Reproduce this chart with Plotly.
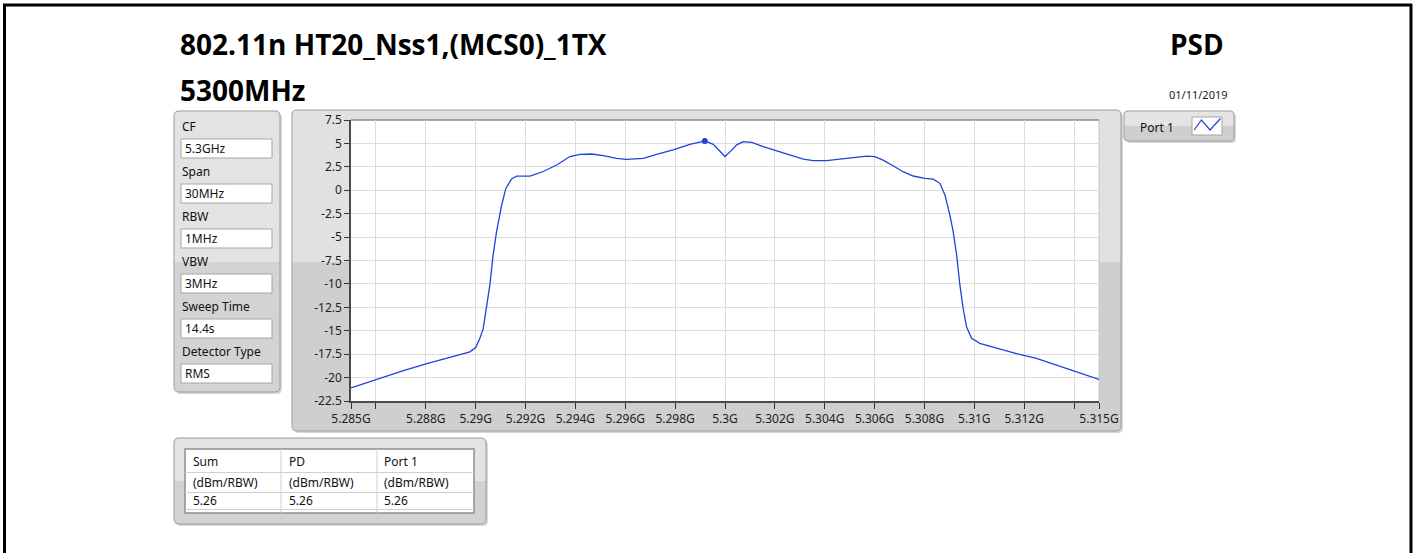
import plotly.graph_objects as go

# ---------------------------------------------------------------- data
freq_ghz = [
    5.28500, 5.28600, 5.28704, 5.28804, 5.28924, 5.28977, 5.29000, 5.29017,
    5.29030, 5.29044, 5.29057, 5.29070, 5.29084, 5.29104, 5.29121, 5.29144,
    5.29164, 5.29218, 5.29271, 5.29325, 5.29378, 5.29418, 5.29465, 5.29512,
    5.29565, 5.29605, 5.29672, 5.29726, 5.29792, 5.29859, 5.29919, 5.29953,
    5.29980, 5.30000, 5.30020, 5.30047, 5.30073, 5.30107, 5.30153, 5.30207,
    5.30260, 5.30314, 5.30354, 5.30407, 5.30461, 5.30514, 5.30568, 5.30601,
    5.30634, 5.30674, 5.30714, 5.30755, 5.30801, 5.30835, 5.30862, 5.30882,
    5.30902, 5.30915, 5.30929, 5.30942, 5.30955, 5.30969, 5.30989, 5.31022,
    5.31089, 5.31169, 5.31249, 5.31329, 5.31410, 5.31500,
]
level_dbm = [
    -21.10, -20.20, -19.30, -18.50, -17.60, -17.25, -16.80, -15.80,
    -14.80, -12.60, -10.10, -6.90, -4.40, -1.60, 0.20, 1.20,
    1.50, 1.50, 2.00, 2.70, 3.60, 3.83, 3.87, 3.70,
    3.40, 3.30, 3.40, 3.83, 4.30, 4.90, 5.26, 4.90,
    4.10, 3.60, 4.10, 4.85, 5.19, 5.12, 4.65, 4.20,
    3.76, 3.33, 3.16, 3.16, 3.33, 3.51, 3.65, 3.58,
    3.22, 2.62, 1.98, 1.52, 1.27, 1.19, 0.74, -0.50,
    -2.65, -4.40, -6.90, -10.10, -12.60, -14.60, -15.80, -16.35,
    -16.85, -17.45, -17.95, -18.70, -19.40, -20.20,
]
marker_freq_ghz = 5.29919
marker_level_dbm = 5.26

y_tick_vals = [7.5, 5, 2.5, 0, -2.5, -5, -7.5, -10, -12.5, -15, -17.5, -20, -22.5]
y_tick_text = ["7.5", "5", "2.5", "0", "-2.5", "-5", "-7.5", "-10", "-12.5",
               "-15", "-17.5", "-20", "-22.5"]
x_tick_vals = [5.285, 5.286, 5.288, 5.290, 5.292, 5.294, 5.296, 5.298, 5.300,
               5.302, 5.304, 5.306, 5.308, 5.310, 5.312, 5.314, 5.315]
x_tick_text = ["5.285G", "", "5.288G", "5.29G", "5.292G", "5.294G", "5.296G",
               "5.298G", "5.3G", "5.302G", "5.304G", "5.306G", "5.308G",
               "5.31G", "5.312G", "", "5.315G"]

setting_names = ["CF", "Span", "RBW", "VBW", "Sweep Time", "Detector Type"]
setting_values = ["5.3GHz", "30MHz", "1MHz", "3MHz", "14.4s", "RMS"]

table_columns = ["Sum", "PD", "Port 1"]
table_units = ["(dBm/RBW)", "(dBm/RBW)", "(dBm/RBW)"]
table_values = [5.26, 5.26, 5.26]

title_text = "802.11n HT20_Nss1,(MCS0)_1TX"
subtitle_text = "5300MHz"
mode_text = "PSD"
date_text = "01/11/2019"
trace_name = "Port 1"

# ---------------------------------------------------------------- geometry
W, H = 1415, 553
PL, PR, PT, PB = 351, 1099, 120, 401   # plot area in pixels
LINE_BLUE = "#1c44dc"
FONT = "Noto Sans"
TITLE_FONT = "Open Sans"


def fx(px):
    return (px - PL) / (PR - PL)


def fy(py):
    return (PB - py) / (PB - PT)


def P(x, y):
    return f"{fx(x):.5f},{fy(y):.5f}"


shapes = []
annotations = []


def add_rect(x0, y0, x1, y1, fill, line=None, lw=0, layer="below"):
    shapes.append(dict(type="rect", xref="paper", yref="paper",
                       x0=fx(x0), x1=fx(x1), y0=fy(y1), y1=fy(y0),
                       fillcolor=fill, layer=layer,
                       line=dict(color=line or fill, width=lw)))


def add_line(x0, y0, x1, y1, color, lw=1, layer="below"):
    shapes.append(dict(type="line", xref="paper", yref="paper",
                       x0=fx(x0), x1=fx(x1), y0=fy(y0), y1=fy(y1),
                       layer=layer, line=dict(color=color, width=lw)))


def rounded(x0, y0, x1, y1, r):
    return (f"M {P(x0 + r, y0)} L {P(x1 - r, y0)} Q {P(x1, y0)} {P(x1, y0 + r)} "
            f"L {P(x1, y1 - r)} Q {P(x1, y1)} {P(x1 - r, y1)} "
            f"L {P(x0 + r, y1)} Q {P(x0, y1)} {P(x0, y1 - r)} "
            f"L {P(x0, y0 + r)} Q {P(x0, y0)} {P(x0 + r, y0)} Z")


def top_rounded(x0, y0, x1, ys, r):
    return (f"M {P(x0, ys)} L {P(x0, y0 + r)} Q {P(x0, y0)} {P(x0 + r, y0)} "
            f"L {P(x1 - r, y0)} Q {P(x1, y0)} {P(x1, y0 + r)} L {P(x1, ys)} Z")


def add_path(path, fill, line="rgba(0,0,0,0)", lw=0):
    shapes.append(dict(type="path", xref="paper", yref="paper", path=path,
                       fillcolor=fill, layer="below",
                       line=dict(color=line, width=lw)))


def panel(x0, y0, x1, y1, split, top_fill, bottom_fill, r=5):
    add_path(rounded(x0 + 2, y0 + 2, x1 + 2, y1 + 2, r), "#d6d6d6")
    add_path(rounded(x0, y0, x1, y1, r), bottom_fill)
    add_path(top_rounded(x0, y0, x1, split, r), top_fill)
    add_path(rounded(x0, y0, x1, y1, r), "rgba(0,0,0,0)", "#9c9c9c", 1)


def text(x, y, s, size=12, color="#111111", anchor="left", bold=False, family=FONT):
    # annotation boxes carry a little padding; offset so the glyphs start at x
    x = x - 2 if anchor == "left" else x + 2
    annotations.append(dict(
        xref="paper", yref="paper", x=fx(x), y=fy(y), text=f"<b>{s}</b>" if bold else s,
        showarrow=False, xanchor=anchor, yanchor="middle",
        font=dict(family=family, size=size, color=color)))


# page frame
add_line(3, 5, 1412, 5, "#000000", 3)
add_line(4.5, 4, 4.5, H, "#000000", 3)
add_line(1411, 4, 1411, H, "#000000", 3)

# graph panel and plotting surface
panel(292, 110, 1121, 431, 262, "#e1e1e1", "#cfcfcf")
add_rect(PL, PT, PR, PB, "#ffffff")
add_line(PL, PT, PR, PT, "#8a8a8a", 1.5)
add_line(PR, PT, PR, PB, "#c6c6c6", 1)

# measurement settings cluster
panel(174, 111, 280, 392, 262, "#e3e3e3", "#d3d3d3")
for i, (name, val) in enumerate(zip(setting_names, setting_values)):
    ly = 126 + 45 * i
    by = 148.5 + 45 * i
    add_rect(181, by - 9.5, 272, by + 9.5, "#ffffff", "#a6a6a6", 1)
    text(182, ly, name)
    text(185, by, val)

# result table
panel(174, 438, 486, 524, 481, "#e3e3e3", "#d2d2d2")
add_rect(185, 449, 474, 513, "#ffffff", "#8f8f8f", 1.5)
for yy in (472.5, 492.5, 509.5):
    add_line(185, yy, 474, yy, "#cfcfcf", 1)
for xx in (281, 377):
    add_line(xx, 449, xx, 513, "#cfcfcf", 1)
col_x = [193, 289, 384]
for cx, head, unit, val in zip(col_x, table_columns, table_units, table_values):
    text(cx, 461, head)
    text(cx, 482, unit)
    text(cx, 500.5, f"{val:.2f}")

# plot legend
panel(1124, 111, 1234, 141, 126, "#e4e4e4", "#cfcfcf", r=4)
text(1140, 127, trace_name)
add_rect(1192, 117, 1222, 135, "#ffffff", "#a6a6a6", 1)
shapes.append(dict(type="path", xref="paper", yref="paper", layer="above",
                   path=f"M {P(1194, 130)} L {P(1201.5, 120)} L {P(1210, 130)} L {P(1220.5, 118.5)}",
                   line=dict(color=LINE_BLUE, width=1.2)))

# headings
text(180, 44, title_text, size=28, color="#000000", bold=True, family=TITLE_FONT)
text(180, 90, subtitle_text, size=28, color="#000000", bold=True, family=TITLE_FONT)
text(1224, 44, mode_text, size=28, color="#000000", anchor="right", bold=True, family=TITLE_FONT)
text(1228, 95, date_text, size=11, color="#1a1a1a", anchor="right")

# ---------------------------------------------------------------- figure
fig = go.Figure()
fig.add_trace(go.Scatter(x=freq_ghz, y=level_dbm, mode="lines", name=trace_name,
                         line=dict(color=LINE_BLUE, width=1.3), showlegend=False,
                         hoverinfo="skip"))
fig.add_trace(go.Scatter(x=[marker_freq_ghz], y=[marker_level_dbm], mode="markers",
                         marker=dict(color=LINE_BLUE, size=6), showlegend=False,
                         hoverinfo="skip"))

axis_common = dict(showgrid=True, gridcolor="#dcdcdc", gridwidth=1, zeroline=False,
                   showline=True, linecolor="#4a4a4a", linewidth=1.5,
                   ticks="outside", tickcolor="#333333", tickwidth=1,
                   tickfont=dict(family=FONT, size=12, color="#1e1e1e"),
                   tickmode="array", fixedrange=True)

fig.update_layout(
    width=W, height=H, autosize=False,
    margin=dict(l=PL, r=W - PR, t=PT, b=H - PB, pad=0),
    paper_bgcolor="#ffffff", plot_bgcolor="rgba(0,0,0,0)",
    shapes=shapes, annotations=annotations, showlegend=False,
    xaxis=dict(range=[5.285, 5.315], tickvals=x_tick_vals, ticktext=x_tick_text,
               ticklen=6, **axis_common),
    yaxis=dict(range=[-22.5, 7.5], tickvals=y_tick_vals, ticktext=y_tick_text,
               ticklen=5, **axis_common),
)

fig.write_html("out.html", config={"displayModeBar": False})
